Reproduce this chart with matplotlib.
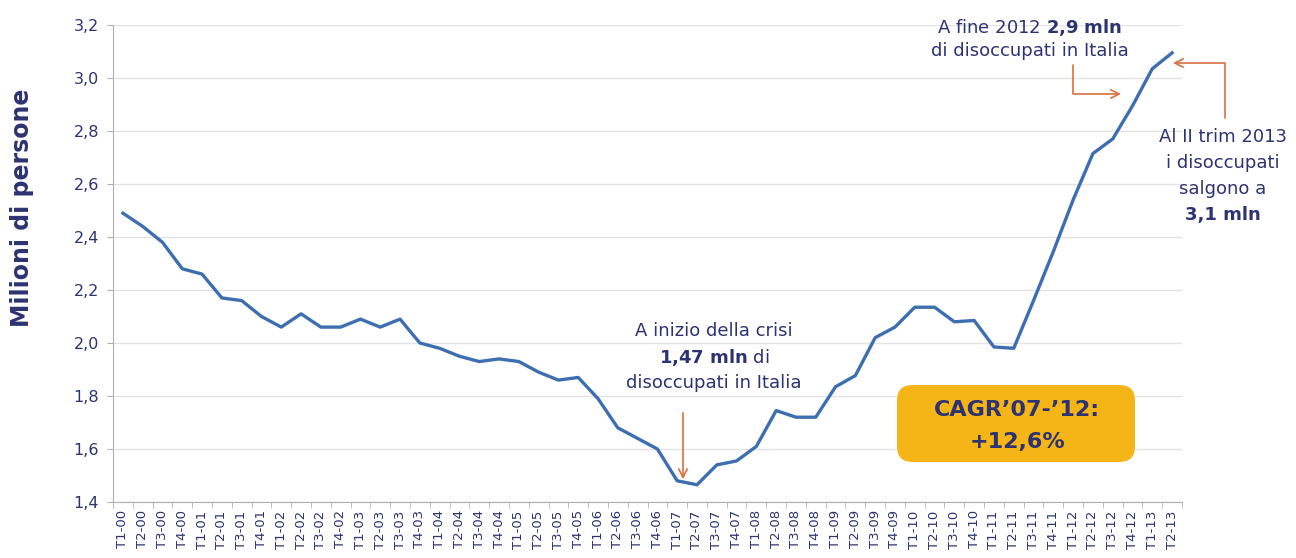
import matplotlib
matplotlib.use("Agg")
import matplotlib.pyplot as plt
from matplotlib.patches import FancyBboxPatch
from matplotlib.ticker import FuncFormatter, FixedLocator

# ---- data ----
quarters = ["T1", "T2", "T3", "T4"]
years = ["00", "01", "02", "03", "04", "05", "06", "07", "08", "09", "10", "11", "12", "13"]
labels = [f"{q}-{y}" for y in years for q in quarters][:54]

unemployed = [
    2.49, 2.44, 2.38, 2.28,   # 2000
    2.26, 2.17, 2.16, 2.10,   # 2001
    2.06, 2.11, 2.06, 2.06,   # 2002
    2.09, 2.06, 2.09, 2.00,   # 2003
    1.98, 1.95, 1.93, 1.94,   # 2004
    1.93, 1.89, 1.86, 1.87,   # 2005
    1.79, 1.68, 1.64, 1.60,   # 2006
    1.48, 1.465, 1.54, 1.555, # 2007
    1.61, 1.745, 1.72, 1.72,  # 2008
    1.835, 1.877, 2.02, 2.06, # 2009
    2.135, 2.135, 2.08, 2.085,# 2010
    1.985, 1.98, 2.16, 2.345, # 2011
    2.54, 2.715, 2.77, 2.895, # 2012
    3.035, 3.095,             # 2013
]

yticks = [1.4, 1.6, 1.8, 2.0, 2.2, 2.4, 2.6, 2.8, 3.0, 3.2]

W, H = 1296, 558
NAVY = "#2c3370"
LINE = "#3d6fb0"
ORANGE = "#d9703f"
GOLD = "#f6b516"
GRID = "#e3e3e3"

fig = plt.figure(figsize=(W / 100, H / 100), dpi=100)
ax = fig.add_axes([113 / W, 1 - 502 / H, (1182 - 113) / W, (502 - 25) / H])

x = list(range(len(unemployed)))
ax.plot(x, unemployed, color=LINE, lw=2.4, solid_joinstyle="round", zorder=3)

ax.set_xlim(-0.5, len(unemployed) - 0.5)
ax.set_ylim(1.4, 3.2)
ax.set_yticks(yticks)
ax.yaxis.set_major_formatter(FuncFormatter(lambda v, p: f"{v:.1f}".replace(".", ",")))
ax.grid(axis="y", color=GRID, lw=1)
ax.set_axisbelow(True)

ax.set_xticks(x)
ax.set_xticklabels(labels, rotation=90, fontsize=9.5, color=NAVY)
ax.xaxis.set_minor_locator(FixedLocator([i - 0.5 for i in range(len(unemployed) + 1)]))
ax.tick_params(axis="x", which="major", length=0, pad=6)
ax.tick_params(axis="x", which="minor", length=4, color="#b0b0b0")
ax.tick_params(axis="y", length=4, color="#b0b0b0", labelsize=11.5, labelcolor=NAVY, pad=6)

for s in ["top", "right"]:
    ax.spines[s].set_visible(False)
for s in ["left", "bottom"]:
    ax.spines[s].set_color("#b0b0b0")

fig.text(22 / W, 1 - 208 / H, "Milioni di persone", rotation=90, ha="center", va="center",
         fontsize=17, fontweight="bold", color=NAVY)

def P(px, py):
    return (px / W, 1 - py / H)

FS = 13
def line(px, py, s, **kw):
    fig.text(*P(px, py), s, ha="center", va="center", fontsize=kw.pop("fontsize", FS),
             color=NAVY, **kw)

# annotation 1 (crisis start)
line(714, 331, "A inizio della crisi")
line(714, 357, r"$\mathbf{1{,}47\ mln}$ di")
line(714, 383, "disoccupati in Italia")
ax.annotate("", xy=P(683, 482), xycoords="figure fraction",
            xytext=P(683, 410), textcoords="figure fraction",
            arrowprops=dict(arrowstyle="->,head_length=0.6,head_width=0.3", color=ORANGE, lw=1.2))

# annotation 2 (end 2012)
line(1030, 27, r"A fine 2012 $\mathbf{2{,}9\ mln}$")
line(1030, 51, "di disoccupati in Italia")
ax.annotate("", xy=P(1121, 94), xycoords="figure fraction",
            xytext=P(1073, 65), textcoords="figure fraction",
            arrowprops=dict(arrowstyle="->,head_length=0.6,head_width=0.3", color=ORANGE, lw=1.2,
                            connectionstyle="angle,angleA=90,angleB=0,rad=0",
                            shrinkA=0, shrinkB=0))

# annotation 3 (II trim 2013)
line(1223, 137, "Al II trim 2013")
line(1223, 163, "i disoccupati")
line(1223, 189, "salgono a")
line(1223, 215, "3,1 mln", fontweight="bold")
ax.annotate("", xy=P(1173, 63), xycoords="figure fraction",
            xytext=P(1225, 118), textcoords="figure fraction",
            arrowprops=dict(arrowstyle="->,head_length=0.6,head_width=0.3", color=ORANGE, lw=1.2,
                            connectionstyle="angle,angleA=90,angleB=0,rad=0",
                            shrinkA=0, shrinkB=0))

# CAGR box
bx0, by0 = P(897, 462)
bx1, by1 = P(1135, 385)
box = FancyBboxPatch((bx0, by0), bx1 - bx0, by1 - by0, transform=fig.transFigure,
                     boxstyle="round,pad=0,rounding_size=0.012", facecolor=GOLD,
                     edgecolor="none", mutation_aspect=W / H, zorder=5)
fig.patches.append(box)
fig.text(*P(1017, 410), "CAGR\u201907-\u201912:", ha="center", va="center",
         fontsize=16, fontweight="bold", color=NAVY, zorder=6)
fig.text(*P(1017, 442), "+12,6%", ha="center", va="center",
         fontsize=16, fontweight="bold", color=NAVY, zorder=6)

fig.savefig("out.png", dpi=100)
